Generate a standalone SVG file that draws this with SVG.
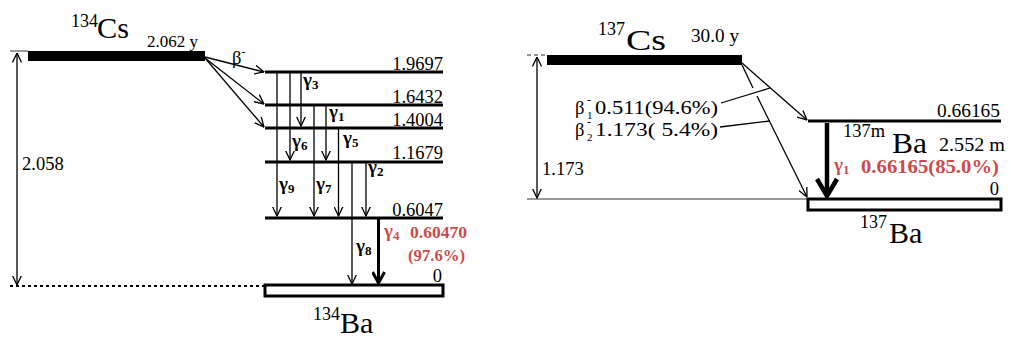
<svg xmlns="http://www.w3.org/2000/svg" width="1011" height="343" viewBox="0 0 1011 343">
<style>
text{font-family:'Liberation Serif',serif;fill:#000}
.lv{stroke:#000;stroke-width:3;fill:none}
.ln{stroke:#000;stroke-width:1.3;fill:none}
.lab{font-size:18.5px}
.g{font-size:19px;font-weight:bold}
.gs{font-size:13px;font-weight:bold}
.red{fill:#cd4a4a;font-weight:bold}
.big{font-size:30px}
.sup{font-size:18px}
</style>
<defs>
<marker id="ah" viewBox="0 0 10 10" refX="9.5" refY="5" markerWidth="10" markerHeight="10" markerUnits="userSpaceOnUse" orient="auto-start-reverse">
<path d="M0,0.5 L9.5,5 L0,9.5" fill="none" stroke="#000" stroke-width="1.3"/>
</marker>
<marker id="ahT" viewBox="0 0 14 14" refX="12" refY="7" markerWidth="14" markerHeight="14" markerUnits="userSpaceOnUse" orient="auto">
<path d="M1,1 L12,7 L1,13" fill="none" stroke="#000" stroke-width="3"/>
</marker>
<marker id="ahB" viewBox="0 0 22 24" refX="19" refY="12" markerWidth="22" markerHeight="24" markerUnits="userSpaceOnUse" orient="auto">
<path d="M2,2 L19,12 L2,22" fill="none" stroke="#000" stroke-width="4.5"/>
</marker>
</defs>

<g id="cs134">
<line x1="10" y1="51" x2="28" y2="51" stroke="#999" stroke-width="2"/>
<rect x="28" y="51" width="177" height="10" fill="#000"/>
<text x="71" y="27" class="sup">134</text>
<text x="97" y="38" font-size="29" textLength="32" lengthAdjust="spacingAndGlyphs">Cs</text>
<text x="147" y="47" font-size="17">2.062 y</text>
</g>

<g id="ba134">
<line x1="10" y1="286" x2="265" y2="286" stroke="#000" stroke-width="2" stroke-dasharray="3,3"/>
<rect x="265" y="285" width="178" height="11" fill="#fff" stroke="#000" stroke-width="3"/>
<text x="442" y="282" class="lab" text-anchor="end">0</text>
<text x="313" y="320" class="sup">134</text>
<text x="340" y="333" class="big">Ba</text>
</g>

<g id="levels134">
<line x1="265" y1="72" x2="443" y2="72" class="lv"/>
<line x1="265" y1="105" x2="443" y2="105" class="lv"/>
<line x1="265" y1="128" x2="443" y2="128" class="lv"/>
<line x1="265" y1="162" x2="443" y2="162" class="lv"/>
<line x1="265" y1="218" x2="443" y2="218" class="lv"/>
<text x="443" y="70" class="lab" text-anchor="end">1.9697</text>
<text x="443" y="103" class="lab" text-anchor="end">1.6432</text>
<text x="443" y="126" class="lab" text-anchor="end">1.4004</text>
<text x="443" y="159" class="lab" text-anchor="end">1.1679</text>
<text x="443" y="216" class="lab" text-anchor="end">0.6047</text>
</g>

<g id="labels134">
<text x="22" y="170" class="lab">2.058</text>
<text x="232" y="64" class="lab">β<tspan font-size="12" dy="-8">-</tspan></text>
<text x="303" y="86" class="g">γ<tspan class="gs" dy="3">3</tspan></text>
<text x="329" y="118" class="g">γ<tspan class="gs" dy="3">1</tspan></text>
<text x="292" y="147" class="g">γ<tspan class="gs" dy="3">6</tspan></text>
<text x="343" y="144" class="g">γ<tspan class="gs" dy="3">5</tspan></text>
<text x="368" y="173" class="g">γ<tspan class="gs" dy="3">2</tspan></text>
<text x="279" y="190" class="g">γ<tspan class="gs" dy="3">9</tspan></text>
<text x="316" y="190" class="g">γ<tspan class="gs" dy="3">7</tspan></text>
<text x="356" y="252" class="g">γ<tspan class="gs" dy="3">8</tspan></text>
<text x="384" y="237" font-size="19" class="red">γ<tspan font-size="13" dy="3">4</tspan></text>
<text x="410" y="238" font-size="17.5" class="red" textLength="57" lengthAdjust="spacingAndGlyphs">0.60470</text>
<text x="408" y="261" font-size="17.5" class="red" textLength="57" lengthAdjust="spacingAndGlyphs">(97.6%)</text>
</g>

<g id="connectors134">
<line x1="17" y1="53" x2="17" y2="285" class="ln" marker-start="url(#ah)" marker-end="url(#ah)"/>
<line x1="205" y1="57" x2="264" y2="72" class="ln" marker-end="url(#ah)"/>
<line x1="205" y1="58" x2="264" y2="104" class="ln" marker-end="url(#ah)"/>
<line x1="205" y1="58" x2="264" y2="127" class="ln" marker-end="url(#ah)"/>
<line x1="277" y1="73" x2="277" y2="216" class="ln" marker-end="url(#ah)"/>
<line x1="290" y1="73" x2="290" y2="160" class="ln" marker-end="url(#ah)"/>
<line x1="301" y1="73" x2="301" y2="126" class="ln" marker-end="url(#ah)"/>
<line x1="314" y1="106" x2="314" y2="216" class="ln" marker-end="url(#ah)"/>
<line x1="326" y1="106" x2="326" y2="160" class="ln" marker-end="url(#ah)"/>
<line x1="338.5" y1="129" x2="338.5" y2="216" class="ln" marker-end="url(#ah)"/>
<line x1="352" y1="163" x2="352" y2="284" class="ln" marker-end="url(#ah)"/>
<line x1="366" y1="163" x2="366" y2="216" class="ln" marker-end="url(#ah)"/>
<line x1="378.5" y1="219" x2="378.5" y2="283" stroke="#000" stroke-width="3" marker-end="url(#ahT)"/>
</g>

<g id="cs137">
<line x1="527" y1="55" x2="547" y2="55" stroke="#777" stroke-width="1.5" stroke-dasharray="4,3"/>
<rect x="547" y="55" width="195" height="10" fill="#000"/>
<text x="598" y="35" class="sup">137</text>
<text x="626" y="50" font-size="29" textLength="40" lengthAdjust="spacingAndGlyphs">Cs</text>
<text x="691" y="42" font-size="18" textLength="48" lengthAdjust="spacingAndGlyphs">30.0 y</text>
</g>

<g id="ba137m">
<line x1="808" y1="121" x2="1001" y2="121" class="lv"/>
<text x="1000" y="117" class="lab" text-anchor="end" textLength="63" lengthAdjust="spacingAndGlyphs">0.66165</text>
<text x="843" y="137" class="sup" textLength="42" lengthAdjust="spacingAndGlyphs">137m</text>
<text x="892" y="153" class="big" textLength="35" lengthAdjust="spacingAndGlyphs">Ba</text>
<text x="939" y="151" font-size="19" textLength="66" lengthAdjust="spacingAndGlyphs">2.552 m</text>
</g>

<g id="ba137">
<line x1="527" y1="199" x2="808" y2="199" stroke="#999" stroke-width="2"/>
<rect x="808" y="199" width="193" height="11" fill="#fff" stroke="#000" stroke-width="3"/>
<text x="999" y="195" class="lab" text-anchor="end">0</text>
<text x="860" y="228" class="sup">137</text>
<text x="889" y="243" class="big">Ba</text>
</g>

<g id="labels137">
<text x="542" y="175" class="lab">1.173</text>
<text x="575" y="114" class="lab">β</text>
<text x="587" y="104" font-size="12">-</text>
<text x="587" y="119" font-size="11">1</text>
<text x="595" y="114" class="lab" textLength="123" lengthAdjust="spacingAndGlyphs">0.511(94.6%)</text>
<text x="575" y="136" class="lab">β</text>
<text x="587" y="126" font-size="12">-</text>
<text x="587" y="141" font-size="11">2</text>
<text x="595" y="136" class="lab" textLength="123" lengthAdjust="spacingAndGlyphs">1.173( 5.4%)</text>
<text x="834" y="171" font-size="19" class="red">γ<tspan font-size="13" dy="3">1</tspan></text>
<text x="861" y="173" font-size="18" class="red" textLength="138" lengthAdjust="spacingAndGlyphs">0.66165(85.0%)</text>
</g>

<g id="connectors137">
<line x1="537" y1="57" x2="537" y2="198" class="ln" marker-start="url(#ah)" marker-end="url(#ah)"/>
<line x1="742" y1="63" x2="807" y2="120" class="ln" marker-end="url(#ah)"/>
<line x1="742" y1="65" x2="753" y2="88" class="ln"/>
<line x1="757" y1="96" x2="807" y2="197" class="ln" marker-end="url(#ah)"/>
<line x1="721" y1="103" x2="770" y2="88" class="ln"/>
<line x1="720" y1="127" x2="770" y2="121" class="ln"/>
<line x1="827" y1="123" x2="827" y2="196" stroke="#000" stroke-width="4.5" marker-end="url(#ahB)"/>
</g>
</svg>
